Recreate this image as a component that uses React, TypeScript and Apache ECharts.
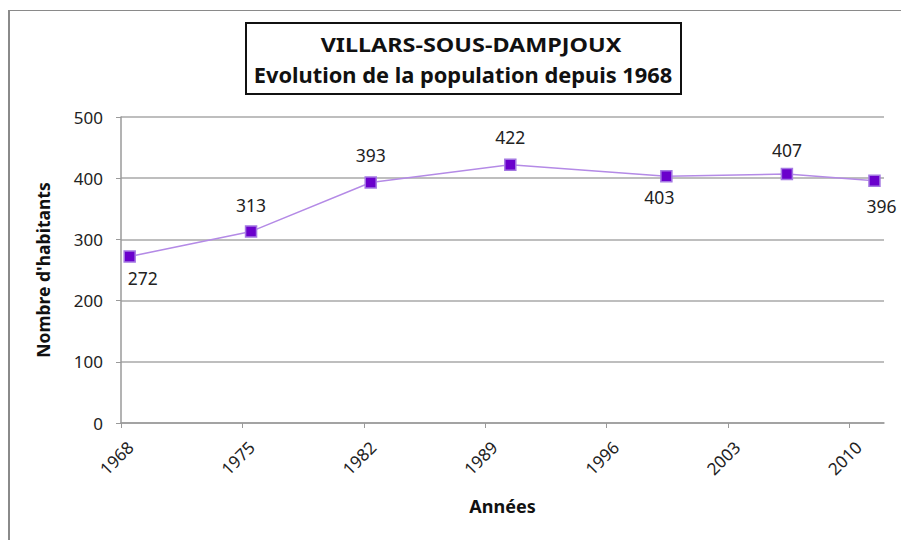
import React, { useEffect, useRef } from "react";
import * as echarts from "echarts";

// Census dates (decimal years, as placed on the date axis) and population
const censusYears = [1968, 1975, 1982, 1990, 1999, 2006, 2011];
const censusDates = [1968.5, 1975.5, 1982.4, 1990.45, 1999.45, 2006.4, 2011.45];
const population = [272, 313, 393, 422, 403, 407, 396];
const xTickYears = [1968, 1975, 1982, 1989, 1996, 2003, 2010];
const yTicks = [0, 100, 200, 300, 400, 500];

const titleLine1 = "VILLARS-SOUS-DAMPJOUX";
const titleLine2 = "Evolution de la population depuis 1968";
const yAxisTitle = "Nombre d'habitants";
const xAxisTitle = "Années";

const FONT = "'Noto Sans', 'DejaVu Sans', sans-serif";

export default function App() {
  const ref = useRef<HTMLDivElement>(null);
  useEffect(() => {
    if (!ref.current) return;
    const chart = echarts.init(ref.current, undefined, { renderer: "svg" });
    const labelStyle: Record<number, any> = {
      0: { position: "bottom", distance: 6, offset: [13, 0] },
      1: { position: "top", distance: 11 },
      2: { position: "top", distance: 12 },
      3: { position: "top", distance: 12 },
      4: { position: "bottom", distance: 5, offset: [-7, 0] },
      5: { position: "top", distance: 9 },
      6: { position: "bottom", distance: 10, offset: [7, 0] },
    };
    const data = censusDates.map((d, i) => ({
      value: [d, population[i]],
      name: String(censusYears[i]),
      label: labelStyle[i],
    }));
    chart.setOption({
      animation: false,
      backgroundColor: "#ffffff",
      grid: { left: 121, right: 17, top: 117, bottom: 117, containLabel: false },
      graphic: [
        { type: "line", shape: { x1: 9, y1: 10, x2: 9, y2: 540 }, style: { stroke: "#8a8a8a", lineWidth: 2 } },
        { type: "line", shape: { x1: 8, y1: 10.5, x2: 901, y2: 10.5 }, style: { stroke: "#8a8a8a", lineWidth: 1 } },
        {
          type: "rect",
          shape: { x: 246, y: 23, width: 435, height: 71 },
          style: { fill: "#ffffff", stroke: "#111111", lineWidth: 2 },
          z: 10,
        },
        {
          type: "text",
          x: 471,
          y: 44,
          scaleX: 1.17,
          z: 11,
          style: {
            text: titleLine1,
            fontFamily: FONT,
            fontWeight: "bold",
            fontSize: 20,
            fill: "#111111",
            align: "center",
            verticalAlign: "middle",
          },
        },
        {
          type: "text",
          x: 463,
          y: 75,
          scaleX: 1.04,
          z: 11,
          style: {
            text: titleLine2,
            fontFamily: FONT,
            fontWeight: "bold",
            fontSize: 21,
            fill: "#111111",
            align: "center",
            verticalAlign: "middle",
          },
        },
      ],
      xAxis: {
        type: "value",
        min: 1968,
        max: 2012,
        interval: 7,
        name: xAxisTitle,
        nameLocation: "middle",
        nameGap: 74,
        nameTextStyle: { fontFamily: FONT, fontWeight: "bold", fontSize: 18, color: "#111" },
        splitLine: { show: false },
        axisLine: { show: true, lineStyle: { color: "#9a9a9a", width: 1.5 } },
        axisTick: { show: true, length: 5, customValues: xTickYears, lineStyle: { color: "#9a9a9a" } },
        axisLabel: {
          customValues: xTickYears,
          rotate: 45,
          margin: 12,
          verticalAlign: "top",
          lineHeight: 26,
          fontFamily: FONT,
          fontSize: 17,
          color: "#222",
          formatter: (v: number) => String(v),
        },
      },
      yAxis: {
        type: "value",
        min: yTicks[0],
        max: yTicks[yTicks.length - 1],
        interval: yTicks[1] - yTicks[0],
        name: yAxisTitle,
        nameLocation: "middle",
        nameGap: 69,
        nameTextStyle: { fontFamily: FONT, fontWeight: "bold", fontSize: 17.5, color: "#111" },
        axisLine: { show: true, lineStyle: { color: "#9a9a9a", width: 1.5 } },
        axisTick: { show: true, length: 5, lineStyle: { color: "#9a9a9a" } },
        axisLabel: { margin: 18, fontFamily: FONT, fontSize: 17, color: "#222" },
        splitLine: { show: true, lineStyle: { color: "#a8a8a8", width: 1.5 } },
      },
      series: [
        {
          type: "line",
          data,
          symbol: "rect",
          symbolSize: 11,
          lineStyle: { color: "#b48ae6", width: 1.5 },
          itemStyle: { color: "#6a00cc", borderColor: "#a478e2", borderWidth: 1.5 },
          label: {
            show: true,
            fontFamily: FONT,
            fontSize: 17.5,
            color: "#222",
            formatter: (p: any) => String(p.value[1]),
          },
          z: 5,
        },
      ],
    });
    return () => chart.dispose();
  }, []);
  return (
    <div
      ref={ref}
      style={{ position: "absolute", left: 0, top: 0, width: 901, height: 540 }}
    />
  );
}
